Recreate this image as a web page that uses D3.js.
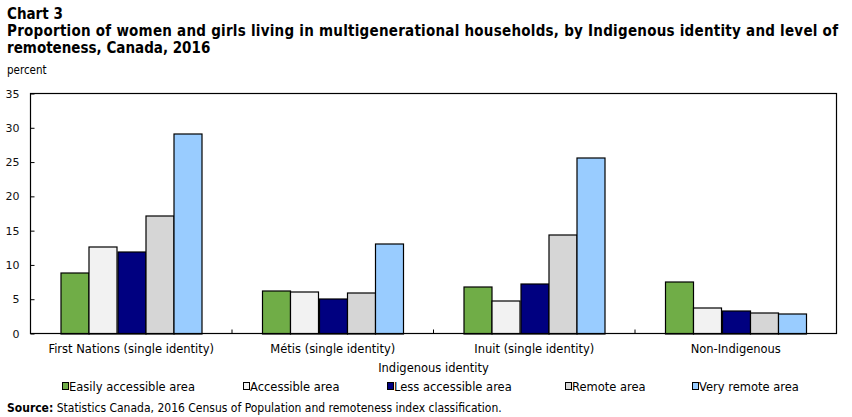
<!DOCTYPE html>
<html>
<head>
<meta charset="utf-8">
<script src="https://cdn.jsdelivr.net/npm/d3@7"></script>
<style>
  body { margin: 0; background: #fff; }
  svg { display: block; font-family: 'DejaVu Sans', sans-serif; }
</style>
</head>
<body>
<svg id="chart" width="852" height="417"></svg>
<script>
// Data
const categories = ['First Nations (single identity)', 'Métis (single identity)', 'Inuit (single identity)', 'Non-Indigenous'];
const series = ['Easily accessible area', 'Accessible area', 'Less accessible area', 'Remote area', 'Very remote area'];
const easilyAccessible = [8.9, 6.3, 6.8, 7.6];
const accessible = [12.7, 6.1, 4.8, 3.8];
const lessAccessible = [12.0, 5.1, 7.3, 3.3];
const remote = [17.2, 6.0, 14.5, 3.0];
const veryRemote = [29.2, 13.1, 25.6, 2.9];
const yTicks = [0, 5, 10, 15, 20, 25, 30, 35];
const colors = ['#70ad47', '#f2f2f2', '#000080', '#d6d6d6', '#99ccff'];

const seriesValues = [easilyAccessible, accessible, lessAccessible, remote, veryRemote];
const data = categories.map((c, i) => ({
    category: c,
    values: series.map((s, j) => ({ key: s, value: seriesValues[j][i] }))
}));

const svg = d3.select('#chart');
const margin = { top: 93.5, right: 15.5, bottom: 83.5, left: 30.5 };
const width = 852 - margin.left - margin.right;
const height = 417 - margin.top - margin.bottom;
const condensed = "'DejaVu Sans Condensed', 'DejaVu Sans', sans-serif";

// Titles
svg.append('text')
    .attr('x', 7).attr('y', 19)
    .attr('font-family', condensed)
    .attr('font-size', '15px').attr('font-weight', 'bold')
    .text('Chart 3');
svg.append('text')
    .attr('x', 7).attr('y', 36)
    .attr('font-family', condensed)
    .attr('font-size', '15px').attr('font-weight', 'bold')
    .attr('textLength', 831).attr('lengthAdjust', 'spacing')
    .text('Proportion of women and girls living in multigenerational households, by Indigenous identity and level of');
svg.append('text')
    .attr('x', 7).attr('y', 53)
    .attr('font-family', condensed)
    .attr('font-size', '15px').attr('font-weight', 'bold')
    .text('remoteness, Canada, 2016');
svg.append('text')
    .attr('x', 7).attr('y', 74)
    .attr('font-family', condensed)
    .attr('font-size', '11.5px')
    .text('percent');

const g = svg.append('g').attr('transform', `translate(${margin.left},${margin.top})`);

const x0 = d3.scaleBand().domain(categories).range([0, width]).padding(0);
const x1 = d3.scaleBand().domain(series).range([0, x0.bandwidth()]).paddingInner(0).paddingOuter(1.07);
const y = d3.scaleLinear().domain([0, 35]).range([height, 0]);

// Bars
const groups = g.selectAll('.group')
    .data(data)
    .join('g')
    .attr('transform', d => `translate(${x0(d.category)},0)`);

groups.selectAll('rect')
    .data(d => d.values)
    .join('rect')
    .attr('x', d => Math.round(x1(d.key)) + 0.5)
    .attr('y', d => Math.round(y(d.value)) + 0.5)
    .attr('width', d => Math.round(x1.bandwidth()))
    .attr('height', d => height - Math.round(y(d.value)))
    .attr('fill', (d, i) => colors[i])
    .attr('stroke', '#000')
    .attr('stroke-width', 1.2);

// Plot frame
g.append('rect')
    .attr('x', 0).attr('y', 0)
    .attr('width', width).attr('height', height)
    .attr('fill', 'none')
    .attr('stroke', '#000')
    .attr('stroke-width', 1.2);

// Y axis with inward ticks
const yAxis = g.append('g')
    .call(d3.axisLeft(y).tickValues(yTicks).tickSize(-4).tickPadding(11));
yAxis.select('.domain').remove();
yAxis.selectAll('text').attr('font-size', '11px').attr('font-family', "'DejaVu Sans', sans-serif").attr('fill', '#111');

// X axis: inward ticks between categories
const xAxis = g.append('g')
    .attr('transform', `translate(0,${height})`);
xAxis.selectAll('line')
    .data(categories.slice(1))
    .join('line')
    .attr('x1', d => x0(d)).attr('x2', d => x0(d))
    .attr('y1', 0).attr('y2', -4)
    .attr('stroke', '#000');
xAxis.selectAll('text')
    .data(categories)
    .join('text')
    .attr('x', d => x0(d) + x0.bandwidth() / 2)
    .attr('y', 19)
    .attr('text-anchor', 'middle')
    .attr('font-size', '11.5px')
    .text(d => d);

svg.append('text')
    .attr('x', margin.left + width / 2)
    .attr('y', 372)
    .attr('text-anchor', 'middle')
    .attr('font-size', '11.5px')
    .text('Indigenous identity');

// Legend
const legendX = [62, 243, 387, 565, 692];
const legend = svg.append('g').selectAll('g')
    .data(series)
    .join('g')
    .attr('transform', (d, i) => `translate(${legendX[i]},391)`);
legend.append('rect')
    .attr('x', 0.5).attr('y', -8.5)
    .attr('width', 6).attr('height', 7)
    .attr('fill', (d, i) => colors[i])
    .attr('stroke', '#000');
legend.append('text')
    .attr('x', 7).attr('y', 0)
    .attr('font-size', '11.5px')
    .text(d => d);

// Source
const source = svg.append('text')
    .attr('x', 7).attr('y', 412)
    .attr('font-family', condensed)
    .attr('font-size', '12px');
source.append('tspan').attr('font-weight', 'bold').text('Source:');
source.append('tspan').text(' Statistics Canada, 2016 Census of Population and remoteness index classification.');
</script>
</body>
</html>
